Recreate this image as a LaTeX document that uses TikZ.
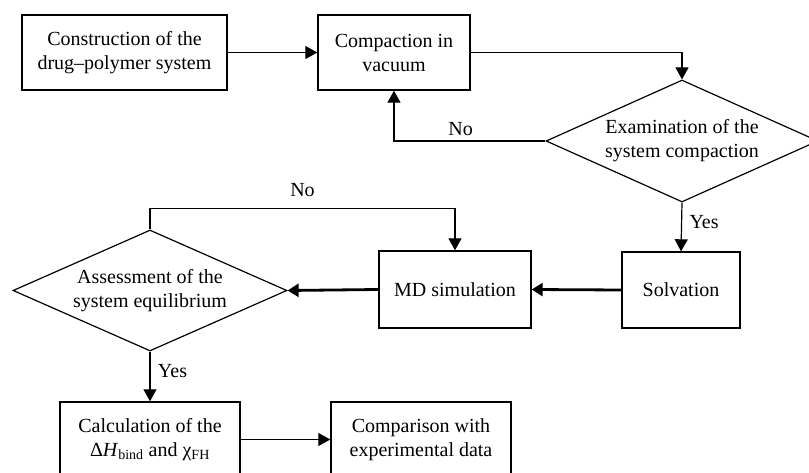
\documentclass[tikz,border=0pt]{standalone}
\usepackage{fontspec}
\setmainfont{Liberation Serif}
\usetikzlibrary{shapes.geometric, arrows.meta}
\tikzstyle{process} = [rectangle, inner sep=0pt, text centered, draw=black, line width=1.4pt, font=\fontsize{20}{24}\selectfont]
\tikzstyle{decision} = [diamond, inner sep=0pt, shape aspect=2.23, minimum width=272pt, minimum height=122pt, text centered, draw=black, line width=1.2pt, font=\fontsize{20}{24}\selectfont]
\tikzstyle{arrow} = [line width=1.2pt, -{Triangle[length=12pt,width=13pt]}]
\tikzstyle{boldarrow} = [line width=2.8pt, -{Triangle[length=11pt,width=13pt]}]
\tikzstyle{answer} = [font=\fontsize{20}{24}\selectfont]

\begin{document}
\begin{tikzpicture}[x=1pt, y=-1pt]
        \useasboundingbox (0,0) rectangle (809,473);
        \node (build) [process, minimum width=205pt, minimum height=75pt, align=center] at (124.5,52.5) {Construction of the\\drug--polymer system};
        \node (vacuum) [process, minimum width=152pt, minimum height=75pt, align=center] at (394,52.5) {Compaction in\\vacuum};
        \node (exam) [decision, align=center] at (682,141) {Examination of the\\system compaction};
        \node (solv) [process, minimum width=118pt, minimum height=76pt] at (681,290) {Solvation};
        \node (md) [process, minimum width=152pt, minimum height=77pt] at (455,289.5) {MD simulation};
        \node (assess) [decision, shape aspect=2.26, minimum width=274pt, minimum height=121pt, align=center] at (150,290.5) {Assessment of the\\system equilibrium};
        \node (calc) [process, minimum width=180pt, minimum height=75pt, align=center] at (150,439.5) {Calculation of the\\Δ\textit{H}\textsubscript{bind} and χ\textsubscript{FH}};
        \node (comp) [process, minimum width=180pt, minimum height=75pt, align=center] at (421,439.5) {Comparison with\\experimental data};

        \draw [arrow] (build) -- (vacuum);
        \draw [arrow] (vacuum.east) -| (exam.north);
        \draw [arrow] (exam.west) -| node [answer, pos=0.28, above=1pt] {No} (vacuum.south);
        \draw [arrow] (exam.south) -- node [answer, right=4pt, pos=0.4] {Yes} (solv.north);
        \draw [boldarrow] (solv.west) -- (md.east);
        \draw [boldarrow] (md.west) -- (assess.east);
        \draw [arrow] (assess.north) -- ++(0,-21) -| node [answer, pos=0.25, above=8pt] {No} (md.north);
        \draw [arrow] (assess.south) -- node [answer, right=4pt, pos=0.4] {Yes} (calc.north);
        \draw [arrow] (calc) -- (comp);
    \end{tikzpicture}
\end{document}
